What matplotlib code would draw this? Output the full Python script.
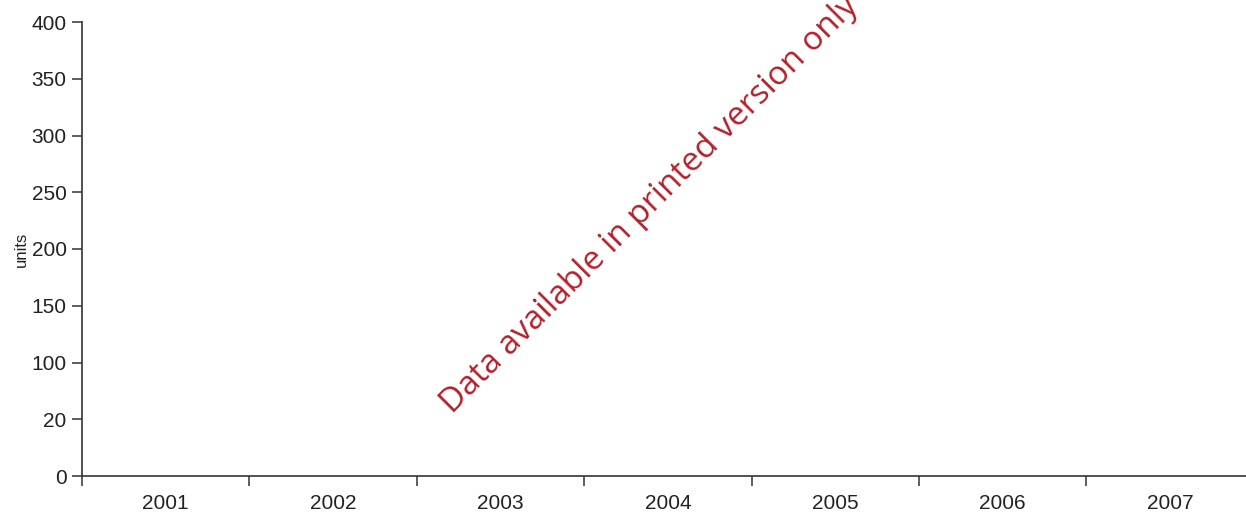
import matplotlib
matplotlib.use("Agg")
import matplotlib.pyplot as plt
import numpy as np

# Data
years = ["2001", "2002", "2003", "2004", "2005", "2006", "2007"]
ytick_vals = [0, 50, 100, 150, 200, 250, 300, 350, 400]
ytick_labels = ["0", "20", "100", "150", "200", "250", "300", "350", "400"]
note = "Data available in printed version only"

plt.rcParams['font.family'] = ['Liberation Sans', 'DejaVu Sans']

fig = plt.figure(figsize=(12.46, 5.15), dpi=100)
ax = fig.add_axes([82 / 1246, 39 / 515, 1164 / 1246, 454 / 515])

ax.set_xlim(0, 1164 / 167.4)
ax.set_ylim(0, 400)

for s in ["top", "right"]:
    ax.spines[s].set_visible(False)
for s in ["left", "bottom"]:
    ax.spines[s].set_color("#333333")
    ax.spines[s].set_linewidth(1.2)

ax.set_yticks(ytick_vals)
ax.set_yticklabels(ytick_labels, fontsize=15, color="#222222")

# category boundaries get tick marks, labels sit in the middle
ax.set_xticks(np.arange(len(years)))
ax.set_xticklabels([])
ax.set_xticks(np.arange(len(years)) + 0.5, minor=True)
ax.set_xticklabels(years, minor=True, fontsize=15, color="#222222")
ax.tick_params(axis="x", which="minor", length=0, pad=13)
ax.tick_params(axis="both", which="major", length=7, width=1.1, color="#333333")
ax.tick_params(axis="y", pad=4)

ax.set_ylabel("units", fontsize=12, color="#222222", labelpad=2)

ax.text(2.21, 54.0, note, rotation=45, rotation_mode="anchor",
        ha="left", va="baseline", fontsize=24, color="#B3202A",
        family=["Open Sans", "DejaVu Sans"], clip_on=False)

fig.savefig("out.png", dpi=100)
